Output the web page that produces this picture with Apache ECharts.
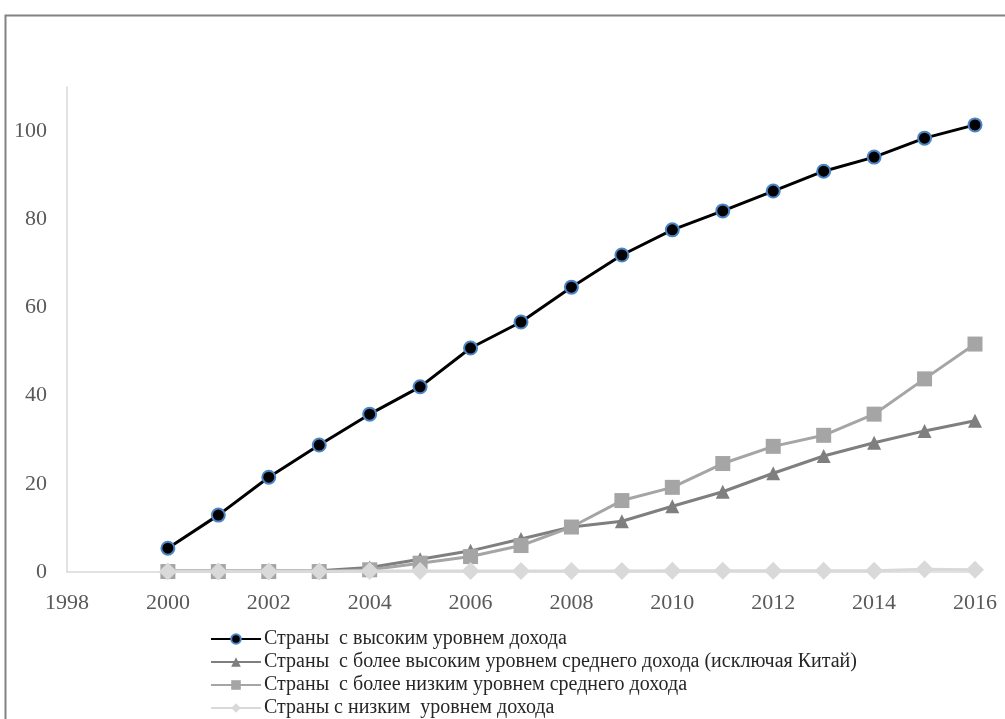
<!DOCTYPE html>
<html>
<head>
<meta charset="utf-8">
<script src="https://cdn.jsdelivr.net/npm/echarts@6/dist/echarts.min.js"></script>
<style>
  html, body { margin: 0; padding: 0; background: #fff; }
  #chart { width: 1005px; height: 719px; }
</style>
</head>
<body>
<div id="chart"></div>
<script>
// Years on the horizontal axis
const years = [2000, 2001, 2002, 2003, 2004, 2005, 2006, 2007, 2008,
               2009, 2010, 2011, 2012, 2013, 2014, 2015, 2016];

// Series names
const seriesNames = [
  'Страны  с высоким уровнем дохода',
  'Страны  с более высоким уровнем среднего дохода (исключая Китай)',
  'Страны  с более низким уровнем среднего дохода',
  'Страны с низким  уровнем дохода'
];

// Values per income group
const highIncome = [5.4, 12.9, 21.5, 28.8, 35.8, 42.0, 50.8, 56.7, 64.6,
                    71.9, 77.6, 81.9, 86.4, 90.9, 94.1, 98.4, 101.4];
const upperMiddle = [0.2, 0.2, 0.2, 0.3, 1.0, 2.9, 4.8, 7.5, 10.2,
                     11.5, 14.9, 18.2, 22.4, 26.3, 29.3, 32.0, 34.3];
const lowerMiddle = [0.1, 0.1, 0.1, 0.1, 0.5, 2.0, 3.5, 6.0, 10.2,
                     16.2, 19.2, 24.6, 28.5, 31.0, 35.8, 43.8, 51.7];
const lowIncome = [0.1, 0.1, 0.1, 0.1, 0.2, 0.2, 0.2, 0.2, 0.2,
                   0.2, 0.3, 0.3, 0.3, 0.3, 0.3, 0.6, 0.5];

const pairs = arr => years.map((y, i) => [y, arr[i]]);

const serif = '"Liberation Serif", "DejaVu Serif", serif';

// One legend row per series, stacked under the plot
const legendRows = seriesNames.map((name, i) => ({
  orient: 'horizontal',
  left: 205, top: 624 + i * 23,
  itemWidth: 50, itemHeight: 12,
  textStyle: { color: '#262626', fontFamily: serif, fontSize: 20, padding: [0, 0, 0, -2] },
  data: [name]
}));

const chart = echarts.init(document.getElementById('chart'));
chart.setOption({
  animation: false,
  backgroundColor: '#ffffff',
  graphic: [{
    type: 'rect',
    left: 3, top: 13,
    shape: { width: 1020, height: 730 },
    style: { fill: 'none', stroke: '#828282', lineWidth: 2 },
    silent: true
  }],
  grid: { left: 67, right: 30, top: 87, bottom: 147, containLabel: false },
  xAxis: {
    type: 'value',
    min: 1998, max: 2016, interval: 2,
    axisLine: { show: true, lineStyle: { color: '#d9d9d9', width: 1.5 } },
    axisTick: { show: false },
    splitLine: { show: false },
    axisLabel: {
      color: '#595959', fontFamily: serif, fontSize: 22, margin: 20,
      formatter: v => String(v)
    }
  },
  yAxis: {
    type: 'value',
    min: 0, max: 110, interval: 20,
    axisLine: { show: true, lineStyle: { color: '#d9d9d9', width: 1.5 } },
    axisTick: { show: false },
    splitLine: { show: false },
    axisLabel: {
      color: '#595959', fontFamily: serif, fontSize: 22, margin: 20,
      showMaxLabel: false,
      formatter: v => (v > 100 ? '' : String(v))
    }
  },
  legend: legendRows,
  series: [
    {
      name: seriesNames[0], type: 'line', data: pairs(highIncome),
      symbol: 'circle', symbolSize: 13,
      lineStyle: { color: '#000000', width: 3 },
      itemStyle: { color: '#000000', borderColor: '#4a86c8', borderWidth: 2 },
      z: 2
    },
    {
      name: seriesNames[1], type: 'line', data: pairs(upperMiddle),
      symbol: 'triangle', symbolSize: 14,
      lineStyle: { color: '#7f7f7f', width: 3 },
      itemStyle: { color: '#7f7f7f', borderWidth: 0 },
      z: 3
    },
    {
      name: seriesNames[2], type: 'line', data: pairs(lowerMiddle),
      symbol: 'rect', symbolSize: 15,
      lineStyle: { color: '#a5a5a5', width: 3 },
      itemStyle: { color: '#a5a5a5', borderWidth: 0 },
      z: 4
    },
    {
      name: seriesNames[3], type: 'line', data: pairs(lowIncome),
      symbol: 'diamond', symbolSize: 18,
      lineStyle: { color: '#d9d9d9', width: 3 },
      itemStyle: { color: '#d9d9d9', borderWidth: 0 },
      z: 5
    }
  ]
});
</script>
</body>
</html>
